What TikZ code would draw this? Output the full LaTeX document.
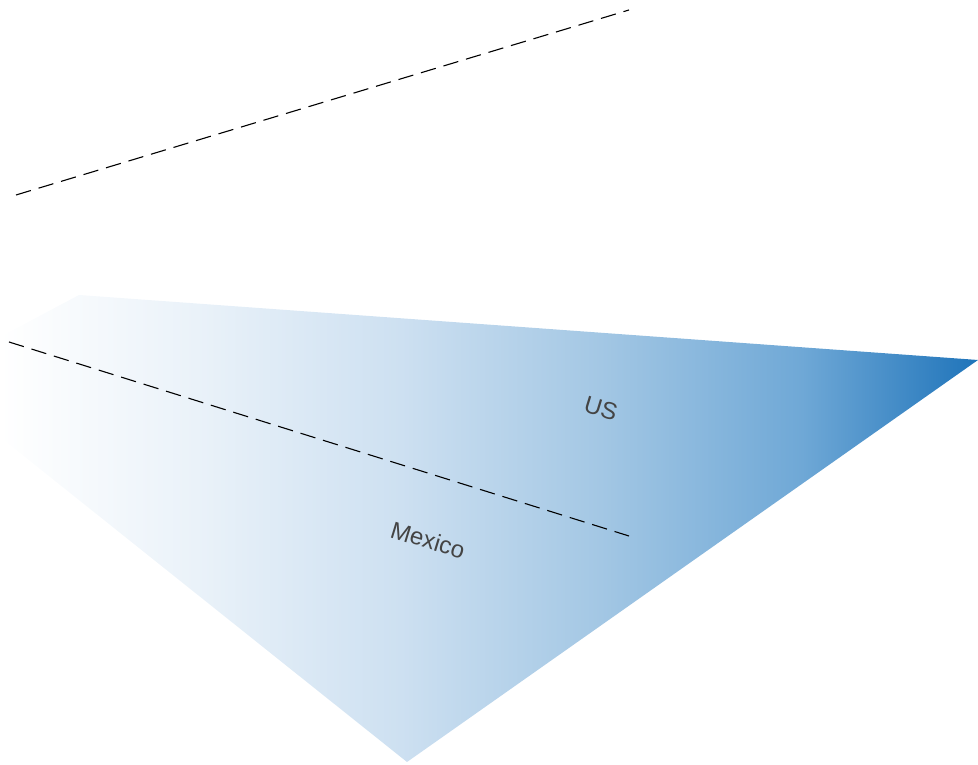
\documentclass[tikz,border=0pt]{standalone}
\usepackage{fontspec}
\setmainfont{Liberation Sans}
\definecolor{gA}{HTML}{EAF2F9}
\definecolor{gB}{HTML}{CDE0F1}
\definecolor{gC}{HTML}{A3C7E4}
\definecolor{gD}{HTML}{6FA8D6}
\definecolor{gE}{HTML}{1F74BA}
\definecolor{labelgray}{HTML}{444444}
\pgfdeclarehorizontalshading{usgrad}{100bp}{color(0bp)=(white); color(25bp)=(white); color(35bp)=(gA); color(45.5bp)=(gB); color(55.7bp)=(gC); color(66bp)=(gD); color(75bp)=(gE); color(100bp)=(gE)}
\tikzset{
  border/.style={dash pattern=on 15.5pt off 8pt, line width=1.1pt, black},
  region/.style={shading=usgrad, draw=none},
  countrylabel/.style={font=\fontsize{24}{28}\selectfont, text=labelgray, rotate=-17, inner sep=0pt}
}
\begin{document}
\begin{tikzpicture}[x=1pt,y=1pt]
\useasboundingbox (0,0) rectangle (978,765);
% shaded territory
\path[region] (0,428) -- (79,470) -- (978,405) -- (407,3) -- (0,328) -- cycle;
% dashed borders
\coordinate (b1s) at (16,570);
\coordinate (b1e) at (629,755);
\coordinate (b2s) at (9,423);
\coordinate (b2e) at (629,229);
\draw[border] (b1s) -- (b1e);
\draw[border] (b2s) -- (b2e);
% labels
\node[countrylabel] (us) at (601,357) {US};
\node[countrylabel] (mx) at (428,225) {Mexico};
\end{tikzpicture}
\end{document}
